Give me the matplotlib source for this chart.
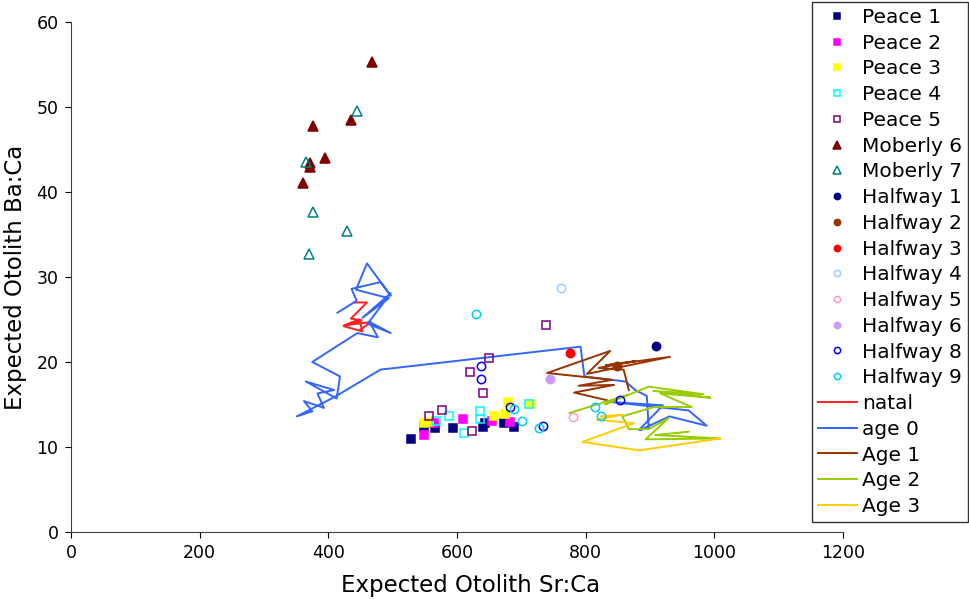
import matplotlib
matplotlib.use("Agg")
import matplotlib.pyplot as plt

# --- scatter groups (Sr:Ca, Ba:Ca) ---
peace1_x = [528, 549, 566, 594, 641, 643, 673, 688]
peace1_y = [10.9, 12.4, 12.2, 12.2, 12.4, 12.8, 12.8, 12.4]
peace2_x = [549, 564, 609, 655, 682]
peace2_y = [11.4, 12.8, 13.3, 13.0, 12.9]
peace3_x = [549, 557, 657, 675, 679, 715]
peace3_y = [12.8, 12.9, 13.6, 13.9, 15.3, 15.1]
peace4_x = [567, 587, 611, 636, 636, 712]
peace4_y = [13.0, 13.6, 11.6, 14.2, 13.3, 15.0]
peace5_x = [739, 649, 620, 640, 576, 557, 623]
peace5_y = [24.4, 20.5, 18.8, 16.3, 14.4, 13.7, 11.9]
moberly6_x = [468, 435, 376, 394, 372, 372, 361]
moberly6_y = [55.3, 48.5, 47.8, 44.0, 43.4, 42.9, 41.1]
moberly7_x = [444, 365, 376, 429, 370]
moberly7_y = [49.5, 43.5, 37.6, 35.4, 32.7]
halfway1_x, halfway1_y = [909], [21.9]
halfway2_x, halfway2_y = [849], [19.5]
halfway3_x, halfway3_y = [775], [21.1]
halfway4_x, halfway4_y = [762], [28.7]
halfway5_x, halfway5_y = [780], [13.5]
halfway6_x, halfway6_y = [745], [18.0]
halfway8_x = [638, 638, 682, 734, 854]
halfway8_y = [19.5, 18.0, 14.7, 12.5, 15.5]
halfway9_x = [629, 688, 701, 727, 815, 824]
halfway9_y = [25.7, 14.5, 13.1, 12.2, 14.7, 13.6]

# --- life-history tracks ---
natal_x = [440, 460, 435, 452, 424, 453, 448, 424, 466, 450]
natal_y = [27.0, 27.0, 25.1, 24.9, 24.2, 23.6, 25.0, 24.3, 24.7, 23.8]
age0_x = [414, 444, 436, 481, 497, 460, 443, 494, 453, 497, 461, 497, 464, 477, 445,
          375, 418, 413, 365, 409, 383, 393, 362, 375, 351, 410, 481,
          792, 798, 862, 877, 895, 898, 883, 920, 838, 960, 988, 930, 885]
age0_y = [25.8, 27.2, 28.6, 29.4, 27.8, 31.6, 28.5, 27.5, 25.2, 28.1, 24.5, 23.4, 24.7, 22.9, 23.4,
          20.0, 18.3, 15.7, 17.7, 16.7, 16.3, 14.6, 15.4, 14.2, 13.6, 15.9, 19.1,
          21.8, 18.3, 17.7, 16.7, 16.0, 12.2, 12.0, 14.9, 15.3, 14.3, 12.5, 13.6, 12.0]
age1_x = [833, 782, 844, 789, 841, 740, 838, 802, 931, 831, 877, 820, 859, 867]
age1_y = [15.5, 16.4, 17.3, 17.2, 17.9, 18.7, 21.3, 18.6, 20.6, 19.6, 20.1, 19.3, 19.1, 16.7]
age2_x = [775, 864, 830, 898, 983, 905, 994, 916, 965, 906, 857, 867, 898, 929, 893, 1009, 908, 960]
age2_y = [14.0, 16.1, 15.0, 17.1, 16.2, 16.6, 15.8, 16.3, 14.7, 14.7, 13.6, 12.1, 12.1, 13.4, 10.9, 11.0, 11.4, 11.8]
age3_x = [823, 857, 817, 875, 795, 883, 1009]
age3_y = [13.6, 13.8, 13.2, 12.8, 10.6, 9.6, 11.0]

plt.rcParams["font.family"] = ["DejaVu Sans"]

fig = plt.figure(figsize=(9.69, 5.99), dpi=100)
ax = fig.add_axes([0.0733, 0.1119, 0.7967, 0.8514])

ms = 6.0
mew = 1.1
handles = []


def pts(x, y, marker, color, label, filled=True, size=ms):
    h, = ax.plot(x, y, linestyle="none", marker=marker, markersize=size,
                 markerfacecolor=color if filled else "none",
                 markeredgecolor=color, markeredgewidth=mew,
                 label=label, zorder=3)
    handles.append(h)


pts(peace1_x, peace1_y, "s", "#000080", "Peace 1")
pts(peace2_x, peace2_y, "s", "#FF00FF", "Peace 2")
pts(peace3_x, peace3_y, "s", "#FFFF00", "Peace 3")
pts(peace4_x, peace4_y, "s", "#00FFFF", "Peace 4", filled=False)
pts(peace5_x, peace5_y, "s", "#800080", "Peace 5", filled=False)
pts(moberly6_x, moberly6_y, "^", "#800000", "Moberly 6", size=7)
pts(moberly7_x, moberly7_y, "^", "#008080", "Moberly 7", filled=False, size=7)
pts(halfway1_x, halfway1_y, "o", "#000080", "Halfway 1")
pts(halfway2_x, halfway2_y, "o", "#993300", "Halfway 2")
pts(halfway3_x, halfway3_y, "o", "#FF0000", "Halfway 3")
pts(halfway4_x, halfway4_y, "o", "#99CCFF", "Halfway 4", filled=False)
pts(halfway5_x, halfway5_y, "o", "#FF99CC", "Halfway 5", filled=False)
pts(halfway6_x, halfway6_y, "o", "#CC99FF", "Halfway 6")
pts(halfway8_x, halfway8_y, "o", "#0000FF", "Halfway 8", filled=False)
pts(halfway9_x, halfway9_y, "o", "#00CCFF", "Halfway 9", filled=False)

for x, y, c, lab in [(natal_x, natal_y, "#FF2020", "natal"),
                     (age0_x, age0_y, "#3366FF", "age 0"),
                     (age1_x, age1_y, "#993300", "Age 1"),
                     (age2_x, age2_y, "#99CC00", "Age 2"),
                     (age3_x, age3_y, "#FFCC00", "Age 3")]:
    h, = ax.plot(x, y, color=c, lw=1.4, label=lab, zorder=2)
    handles.append(h)

ax.set_xlim(0, 1200)
ax.set_ylim(0, 60)
ax.set_xticks(range(0, 1201, 200))
ax.set_yticks(range(0, 61, 10))
ax.tick_params(labelsize=12.5, direction="out", length=4, width=0.8, colors="black", pad=5)
for s in ("top", "right"):
    ax.spines[s].set_visible(False)
for s in ("left", "bottom"):
    ax.spines[s].set_linewidth(0.8)
    ax.spines[s].set_color("#404040")

ax.set_xlabel("Expected Otolith Sr:Ca", fontsize=16.5)
ax.set_ylabel("Expected Otolith Ba:Ca", fontsize=16.5, labelpad=7)
ax.xaxis.set_label_coords(0.518, -0.082)

leg = fig.legend(handles=handles, loc="upper right", bbox_to_anchor=(0.999, 0.997),
                 fontsize=14.5, frameon=True, fancybox=False, edgecolor="black",
                 markerscale=0.75, handlelength=1.95, handletextpad=0.25,
                 labelspacing=0.335, borderpad=0.3, borderaxespad=0)
leg.get_frame().set_linewidth(1.0)

fig.savefig("out.png", dpi=100)
